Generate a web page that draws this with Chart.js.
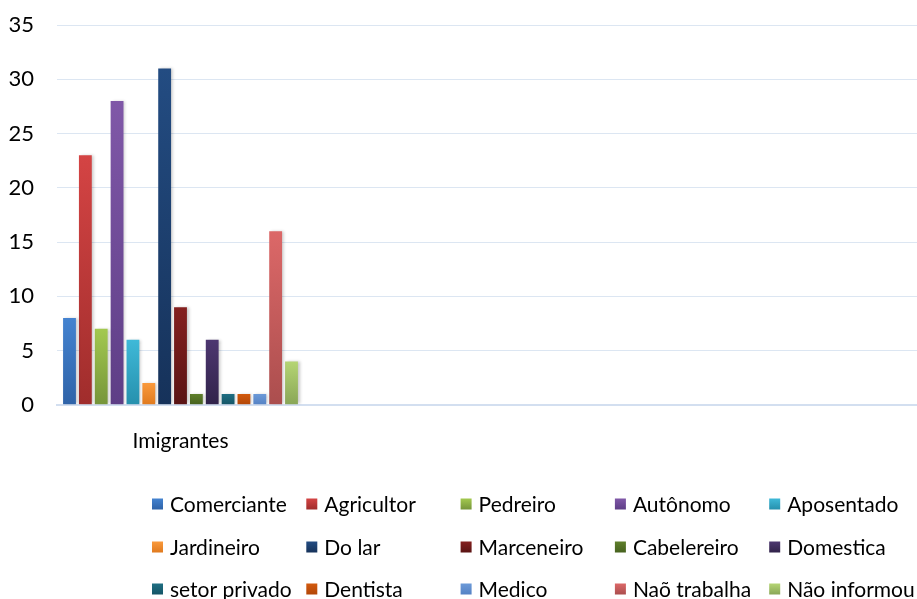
<!DOCTYPE html>
<html>
<head>
<meta charset="utf-8">
<script src="https://cdn.jsdelivr.net/npm/chart.js@4"></script>
<style>
  html, body { margin: 0; padding: 0; background: #fff; overflow: hidden; }
  #wrap { position: relative; width: 1066px; height: 599px; }
</style>
</head>
<body>
<div id="wrap"><canvas id="myChart"></canvas></div>
<script>
// categories on the x axis (only the first one has data)
const categories = ['Imigrantes', '', '', ''];

// one series per occupation
const occupations = [
  'Comerciante', 'Agricultor', 'Pedreiro', 'Autônomo', 'Aposentado',
  'Jardineiro', 'Do lar', 'Marceneiro', 'Cabelereiro', 'Domestica',
  'setor privado', 'Dentista', 'Medico', 'Naõ trabalha', 'Não informou'
];
const counts = [8, 23, 7, 28, 6, 2, 31, 9, 1, 6, 1, 1, 1, 16, 4];

const yTicks = [0, 5, 10, 15, 20, 25, 30, 35];

// light (top) and dark (bottom) shade of each bar
const topColors = [
  '#4483d0', '#d44444', '#a3c94f', '#8058a8', '#3fb9d8',
  '#fa9a3c', '#234c82', '#84201f', '#5f7f2b', '#4d3770',
  '#1f6f83', '#d35a0e', '#6c9ad8', '#dc6868', '#b5d574'
];
const bottomColors = [
  '#2f63a8', '#a02d2c', '#76953a', '#5e3e86', '#2690ad',
  '#e07a1e', '#16325a', '#5a1414', '#47621f', '#31234a',
  '#155566', '#b24708', '#5582c4', '#ab4e4e', '#89a657'
];

const fontFamily = 'Lato, "Open Sans", sans-serif';

function barGradient(i) {
  return function(context) {
    const chart = context.chart;
    const yScale = chart.scales.y;
    if (!yScale || context.raw == null) return topColors[i];
    const yTop = yScale.getPixelForValue(context.raw);
    const yBottom = yScale.getPixelForValue(0);
    if (!isFinite(yTop) || yTop === yBottom) return topColors[i];
    const g = chart.ctx.createLinearGradient(0, yTop, 0, yBottom);
    g.addColorStop(0, topColors[i]);
    g.addColorStop(1, bottomColors[i]);
    return g;
  };
}

const datasets = occupations.map((name, i) => ({
  label: name,
  data: [counts[i], null, null, null],
  backgroundColor: barGradient(i),
  borderWidth: 0
}));

// soft shadow behind the bars
const barShadow = {
  id: 'barShadow',
  beforeDatasetsDraw(chart) {
    const c = chart.ctx;
    c.save();
    c.shadowColor = 'rgba(0,0,0,0.22)';
    c.shadowBlur = 3;
    c.shadowOffsetX = 2;
    c.shadowOffsetY = 0;
  },
  afterDatasetsDraw(chart) {
    chart.ctx.restore();
  }
};

// legend laid out as a 5-column grid under the axis
const gridLegend = {
  id: 'gridLegend',
  afterDraw(chart) {
    const c = chart.ctx;
    const cols = 5;
    const left = 152;
    const colW = 154.3;
    const rowY = [504, 547, 589];
    const box = 11;
    c.save();
    c.font = '21px ' + fontFamily;
    c.textBaseline = 'middle';
    chart.data.datasets.forEach((ds, i) => {
      const x = left + (i % cols) * colW;
      const y = rowY[Math.floor(i / cols)];
      const g = c.createLinearGradient(0, y - box / 2, 0, y + box / 2);
      g.addColorStop(0, topColors[i]);
      g.addColorStop(1, bottomColors[i]);
      c.fillStyle = g;
      c.fillRect(x, y - box / 2, box, box);
      c.fillStyle = '#000';
      c.fillText(ds.label, x + box + 7, y + 1);
    });
    c.restore();
  }
};

const ctx = document.getElementById('myChart').getContext('2d');
const barChart = new Chart(ctx, {
  type: 'bar',
  data: {
    labels: categories,
    datasets: datasets
  },
  options: {
    responsive: true,
    maintainAspectRatio: false,
    animation: false,
    layout: {
      padding: { top: 25, left: 8, right: 21, bottom: 129 }
    },
    datasets: {
      bar: {
        categoryPercentage: 0.963,
        barPercentage: 0.81
      }
    },
    plugins: {
      legend: { display: false },
      tooltip: { enabled: false }
    },
    scales: {
      x: {
        grid: { display: false },
        border: { color: '#d3dff0', width: 2 },
        afterFit(axis) {
          axis.paddingLeft = 0;
          axis.paddingRight = 0;
        },
        ticks: {
          color: '#000',
          padding: 16,
          font: { family: fontFamily, size: 21 }
        }
      },
      y: {
        min: 0,
        max: 35,
        afterBuildTicks(axis) {
          axis.ticks = yTicks.map(v => ({ value: v }));
        },
        afterFit(axis) {
          axis.width = 49;
          axis.paddingTop = 0;
          axis.paddingBottom = 0;
        },
        grid: { color: '#dce6f2', drawTicks: false },
        border: { display: false },
        ticks: {
          color: '#000',
          padding: 23,
          font: { family: fontFamily, size: 22 }
        }
      }
    }
  },
  plugins: [barShadow, gridLegend]
});
</script>
</body>
</html>
